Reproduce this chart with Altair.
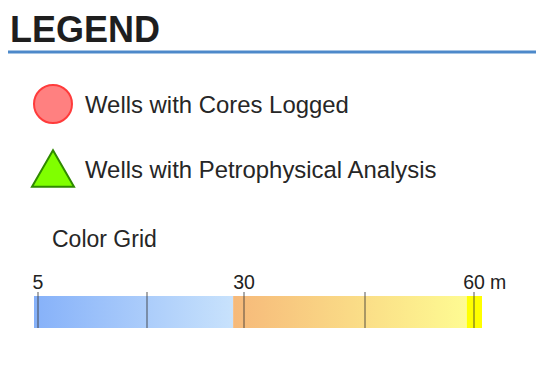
import altair as alt
import pandas as pd

# ---- content ----
title_text = ["LEGEND"]
item_labels = ["Wells with Cores Logged", "Wells with Petrophysical Analysis"]
item_shapes = ["circle", "triangle-up"]
item_fill = ["#ff8080", "#80ff00"]
item_stroke = ["#ff3b3b", "#2f8a00"]
grid_title = ["Color Grid"]
grid_unit = ["m"]
tick_values = [5, 17.5, 30, 45, 60]
tick_labels = ["5", "", "30", "", "60"]
seg_start = [4.5, 28.6, 59.0]
seg_end = [28.6, 59.0, 61.0]
seg_color_from = ["#86b1f9", "#f6b97a", "#ffff00"]
seg_color_to = ["#c8e2fc", "#fefb92", "#ffff00"]

FONT = "Liberation Sans"
W, H = 528, 355

xscale = alt.Scale(domain=[4.5, 5, 17.5, 30, 45, 60, 61],
                   range=[26, 30, 139, 236, 357, 466, 474],
                   zero=False, nice=False)

layers = []

# header separator
layers.append(
    alt.Chart(pd.DataFrame({"a": [0]})).mark_rule(stroke="#4d89ca", strokeWidth=3)
    .encode(x=alt.value(0), x2=alt.value(W), y=alt.value(44))
)

# title
layers.append(
    alt.Chart(pd.DataFrame({"t": title_text})).mark_text(
        align="left", baseline="alphabetic", font=FONT, fontSize=36,
        fontWeight="bold", color="#1e1e1e")
    .encode(x=alt.value(2), y=alt.value(34), text="t:N")
)

# symbols and labels
sym_y = [96, 160.5]
sym_size = [1444, 1764]
lab_y = [105, 170]
for i, lab in enumerate(item_labels):
    d = pd.DataFrame({"label": [lab]})
    layers.append(
        alt.Chart(d).mark_point(shape=item_shapes[i], size=sym_size[i],
                                fill=item_fill[i], stroke=item_stroke[i],
                                strokeWidth=2, opacity=1, fillOpacity=1)
        .encode(x=alt.value(45), y=alt.value(sym_y[i]))
    )
    layers.append(
        alt.Chart(d).mark_text(align="left", baseline="alphabetic", font=FONT,
                               fontSize=23.9, color="#262626")
        .encode(x=alt.value(77), y=alt.value(lab_y[i]), text="label:N")
    )

# color grid title
layers.append(
    alt.Chart(pd.DataFrame({"t": grid_title})).mark_text(
        align="left", baseline="alphabetic", font=FONT, fontSize=23, color="#262626")
    .encode(x=alt.value(44), y=alt.value(239), text="t:N")
)

# gradient bar segments
for i in range(len(seg_start)):
    d = pd.DataFrame({"start": [seg_start[i]], "end": [seg_end[i]]})
    grad = alt.LinearGradient(
        gradient="linear", x1=0, x2=1, y1=0, y2=0,
        stops=[alt.GradientStop(color=seg_color_from[i], offset=0),
               alt.GradientStop(color=seg_color_to[i], offset=1)])
    layers.append(
        alt.Chart(d).mark_rect(color=grad)
        .encode(x=alt.X("start:Q", scale=xscale, axis=None), x2="end:Q",
                y=alt.value(288), y2=alt.value(320))
    )

ticks = pd.DataFrame({"value": tick_values, "label": tick_labels})
layers.append(
    alt.Chart(ticks).mark_rule(stroke="#333333", strokeWidth=1.5, opacity=0.55)
    .encode(x=alt.X("value:Q", scale=xscale, axis=None),
            y=alt.value(284), y2=alt.value(320))
)
layers.append(
    alt.Chart(ticks).mark_text(align="center", baseline="alphabetic", font=FONT,
                               fontSize=19.5, color="#222222")
    .encode(x=alt.X("value:Q", scale=xscale, axis=None),
            y=alt.value(281), text="label:N")
)
layers.append(
    alt.Chart(pd.DataFrame({"value": [tick_values[-1]], "u": grid_unit})).mark_text(
        align="left", baseline="alphabetic", font=FONT, fontSize=19.5,
        color="#222222", dx=16)
    .encode(x=alt.X("value:Q", scale=xscale, axis=None),
            y=alt.value(281), text="u:N")
)

chart = alt.layer(*layers).properties(
    width=W, height=H, padding=0, autosize="none", background="white"
).configure_view(stroke=None)

chart.save("out.html", embed_options={"renderer": "svg", "actions": False})
